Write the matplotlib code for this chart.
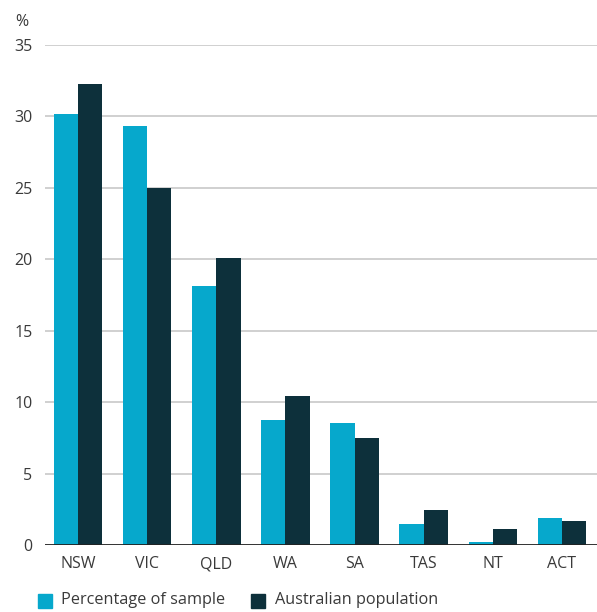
import numpy as np
import matplotlib.pyplot as plt
from matplotlib.patches import Rectangle

plt.rcParams['font.family'] = ['Open Sans', 'DejaVu Sans']

# data
states = ['NSW', 'VIC', 'QLD', 'WA', 'SA', 'TAS', 'NT', 'ACT']
sample_pct = [30.2, 29.3, 18.1, 8.75, 8.55, 1.47, 0.19, 1.87]
population_pct = [32.3, 25.0, 20.1, 10.45, 7.47, 2.43, 1.1, 1.66]
yticks = [0, 5, 10, 15, 20, 25, 30, 35]

cyan = '#06A8CC'
dark = '#0D303B'
text_col = '#3a3a3a'

fig = plt.figure(figsize=(5.97, 6.12), dpi=100)
ax = fig.add_axes([0.0754, 0.1095, 0.9246, 0.817])

x = np.arange(len(states))
w = 0.35
ax.bar(x - w / 2, sample_pct, w, color=cyan, zorder=3)
ax.bar(x + w / 2, population_pct, w, color=dark, zorder=3)

ax.set_xlim(-0.48, 7.51)
ax.set_ylim(0, 35)
ax.set_yticks(yticks)
ax.set_xticks(x)
ax.set_xticklabels(states)
ax.tick_params(axis='both', length=0, labelsize=11.5, colors=text_col)
ax.tick_params(axis='y', pad=9)
ax.tick_params(axis='x', pad=8)
for t in yticks[1:]:
    ax.axhline(t, color='#c8c8c8', lw=1.2, zorder=1)
ax.axhline(0, color='#222222', lw=1.3, zorder=4)
for s in ax.spines.values():
    s.set_visible(False)

fig.text(0.037, 1 - 22 / 612, '%', fontsize=11.5, color=text_col, ha='center', va='center')

# legend drawn along the bottom
fig.patches.append(Rectangle((38 / 597, 1 - 608 / 612), 14 / 597, 14 / 612,
                             transform=fig.transFigure, color=cyan))
fig.text(61 / 597, 1 - 600 / 612, 'Percentage of sample', fontsize=11.7,
         color=text_col, va='center')
fig.patches.append(Rectangle((251 / 597, 1 - 608 / 612), 14 / 597, 14 / 612,
                             transform=fig.transFigure, color=dark))
fig.text(275 / 597, 1 - 600 / 612, 'Australian population', fontsize=11.7,
         color=text_col, va='center')

fig.savefig('out.png', dpi=100)
